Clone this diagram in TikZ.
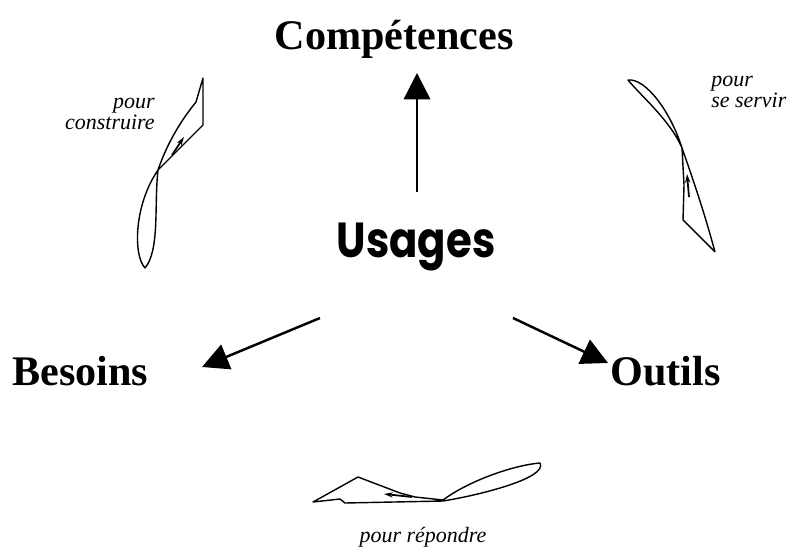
\documentclass[tikz,border=0pt]{standalone}
\usepackage{fontspec}
\setmainfont{Liberation Serif}
\newfontfamily\usagefont{Poppins}
\usepackage{tikz}
\usetikzlibrary{arrows.meta}
\tikzset{
  titre/.style={font=\fontsize{24}{28}\selectfont\bfseries, inner sep=0pt, anchor=base},
  centre/.style={font=\usagefont\fontsize{28}{32}\selectfont\bfseries, inner sep=0pt, anchor=base, xscale=0.85, transform shape},
  legende/.style={font=\fontsize{12.5}{12.5}\selectfont\itshape, inner sep=0pt},
  fleche/.style={line width=1.4pt, -{Triangle[length=15pt,width=15pt]}},
  boucle/.style={line width=0.8pt, line join=round},
  marque/.style={line width=1pt, -{Stealth[length=5pt,width=3pt]}}
}

\begin{document}
\begin{tikzpicture}[x=0.02cm, y=-0.02cm]
\useasboundingbox (0,0) rectangle (793,557);

\node[titre] (comp) at (394,50) {Compétences};
\node[titre, anchor=base west] (besoins) at (12,385) {Besoins};
\node[titre, anchor=base west] (outils) at (610,385) {Outils};
\node[centre] (usages) at (416,257) {Usages};

\coordinate (haut) at (417,192);
\coordinate (gauche) at (320,318);
\coordinate (droite) at (513,318);
\coordinate (pointeC) at (417,73);
\coordinate (pointeB) at (202,367);
\coordinate (pointeO) at (608,363);

\draw[fleche] (haut) -- (pointeC);
\draw[fleche] (gauche) -- (pointeB);
\draw[fleche] (droite) -- (pointeO);

\node[legende, align=right, anchor=base east] (construire) at (155,130) {pour\\construire};
\node[legende, align=left, anchor=base west] (servir) at (711,108) {pour\\se servir};
\node[legende, anchor=base] (repondre) at (423,542) {pour répondre};

\draw[boucle] (203,78) -- (203,125) -- (158,170)
  .. controls (154,205) and (160,250) .. (145,268)
  .. controls (133,255) and (134,205) .. (158,170)
  .. controls (170,135) and (188,112) .. (196,102) -- cycle;
\draw[marque] (172,155) -- (184,137);
\draw[boucle] (715,252) -- (683,220) -- (684,185) -- (682,148)
  .. controls (670,120) and (640,95) .. (628,80)
  .. controls (645,78) and (670,110) .. (682,148)
  .. controls (695,185) and (705,215) .. (715,252);
\draw[marque] (689,197) -- (687,174);
\draw[boucle] (313,502) -- (358,477) -- (400,493) -- (415,497) -- (443,500)
  .. controls (470,480) and (515,465) .. (540,463)
  .. controls (548,478) and (480,495) .. (443,501)
  -- (345,503) -- (340,499) -- cycle;
\draw[marque] (412,497) -- (384,494);
\end{tikzpicture}
\end{document}
